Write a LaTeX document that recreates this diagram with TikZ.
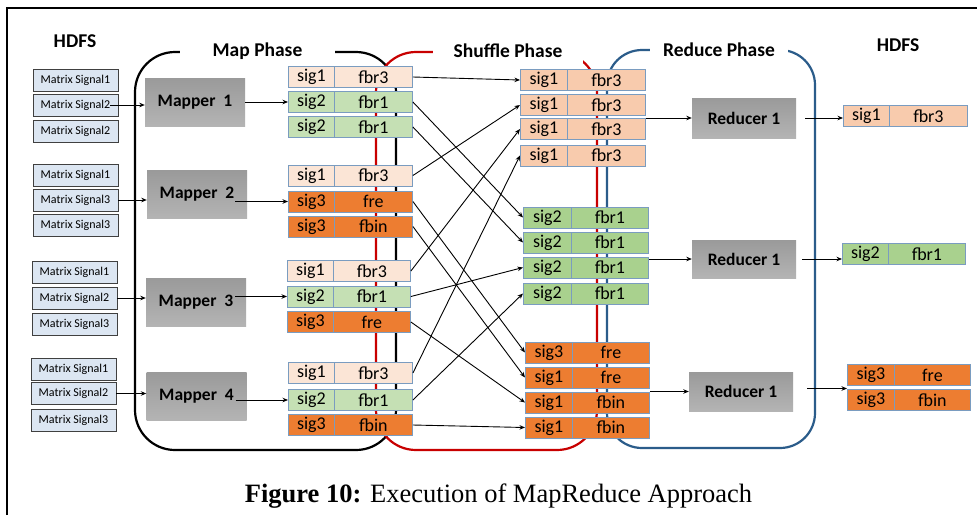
\documentclass[tikz,border=0pt]{standalone}
\usepackage{fontspec}
\setmainfont{Liberation Serif}
\newfontfamily\carl{Carlito}
\usetikzlibrary{arrows.meta}
\definecolor{msigc}{HTML}{DCE6F2}
\definecolor{pchL}{HTML}{FBE5D6}
\definecolor{grnL}{HTML}{C5E0B4}
\definecolor{orng}{HTML}{ED7D31}
\definecolor{pch}{HTML}{F8CBAD}
\definecolor{grn}{HTML}{A9D18E}
\definecolor{cellb}{HTML}{7A9CC0}
\definecolor{redl}{HTML}{C80000}
\definecolor{bluel}{HTML}{2B5C8A}
\definecolor{procT}{HTML}{9A9A9A}
\definecolor{procB}{HTML}{B4B4B4}
\newcommand{\kvrow}[8]{%
  \node[cell, fill=#6, minimum width={(#3)-(#2)}] (#1k) at (#2,#5) {#7};
  \node[cell, fill=#6, minimum width={(#4)-(#3)}] (#1v) at (#3,#5) {#8};}
\begin{document}
\begin{tikzpicture}[x=1pt,y=-1pt,
  msig/.style={draw=black!75, line width=0.8pt, fill=msigc, minimum width=85, minimum height=22, inner sep=0pt, font=\carl\fontsize{12}{12}\selectfont},
  cell/.style={draw=cellb, line width=0.9pt, minimum height=21, inner sep=0pt, anchor=west, font=\carl\fontsize{18}{18}\selectfont},
  proc/.style={top color=procT, bottom color=procB, draw=none, minimum width=100, minimum height=48, inner sep=0pt, font=\carl\bfseries\fontsize{17.5}{18}\selectfont},
  rproc/.style={proc, minimum width=104, minimum height=39},
  phase/.style={fill=white, inner sep=0pt, minimum height=24, font=\carl\bfseries\fontsize{19.5}{20}\selectfont},
  arr/.style={-{Stealth[length=5.5pt,width=4.5pt]}, line width=0.9pt},
  rline/.style={line width=2.2pt, rounded corners=40pt}
]
\useasboundingbox (0,0) rectangle (977,515);
\fill[white] (0,0) rectangle (977,515);
% frame
\draw[line width=2.2pt] (7,515) -- (7,8) -- (977,8);
% phase outlines
\draw[rline, black] (135,52) rectangle (396,450);
\draw[rline, redl] (376,52) rectangle (597,450);
\draw[line width=2.2pt, rounded corners=35pt, bluel] (607,50) rectangle (815,448);
% labels
\node[font=\carl\bfseries\fontsize{19.5}{20}\selectfont] (hin) at (75,41) {HDFS};
\node[font=\carl\bfseries\fontsize{19.5}{20}\selectfont] (hout) at (898,45) {HDFS};
\node[phase, minimum width=155] (lmap) at (257.5,51) {Map Phase};
\node[phase, minimum width=150] (lsh) at (508,51) {Shuffle Phase};
\node[phase, minimum width=138] (lred) at (719,50) {Reduce Phase};
% HDFS inputs
\node[msig] (g1a) at (75.5,80) {Matrix Signal1};
\node[msig] (g1b) at (75.5,105) {Matrix Signal2};
\node[msig] (g1c) at (75.5,131.5) {Matrix Signal2};
\node[msig] (g2a) at (75.5,175) {Matrix Signal1};
\node[msig] (g2b) at (75.5,200) {Matrix Signal3};
\node[msig] (g2c) at (75.5,225.5) {Matrix Signal3};
\node[msig] (g3a) at (74.5,272.5) {Matrix Signal1};
\node[msig] (g3b) at (74.5,298) {Matrix Signal2};
\node[msig] (g3c) at (74.5,324) {Matrix Signal3};
\node[msig] (g4a) at (73.5,369) {Matrix Signal1};
\node[msig] (g4b) at (73.5,393.5) {Matrix Signal2};
\node[msig] (g4c) at (73.5,420) {Matrix Signal3};
% mappers
\node[proc] (m1) at (195,102) {Mapper\ \ 1};
\node[proc] (m2) at (197,194.5) {Mapper\ \ 2};
\node[proc] (m3) at (196,302) {Mapper\ \ 3};
\node[proc] (m4) at (196.5,396) {Mapper\ \ 4};
% map outputs
\kvrow{a1}{288}{334}{412}{77}{pchL}{sig1}{fbr3}
\kvrow{a2}{288}{334}{412}{102}{grnL}{sig2}{fbr1}
\kvrow{a3}{288}{334}{412}{127}{grnL}{sig2}{fbr1}
\kvrow{b1}{288}{334}{412}{175.5}{pchL}{sig1}{fbr3}
\kvrow{b2}{288}{334}{412}{201.5}{orng}{sig3}{fre}
\kvrow{b3}{288}{334}{412}{226.5}{orng}{sig3}{fbin}
\kvrow{c1}{287}{333}{410}{271}{pchL}{sig1}{fbr3}
\kvrow{c2}{287}{333}{410}{296.5}{grnL}{sig2}{fbr1}
\kvrow{c3}{287}{333}{410}{322}{orng}{sig3}{fre}
\kvrow{d1}{288}{334}{412}{373}{pchL}{sig1}{fbr3}
\kvrow{d2}{288}{334}{412}{400}{grnL}{sig2}{fbr1}
\kvrow{d3}{288}{334}{412}{425}{orng}{sig3}{fbin}
% shuffle
\kvrow{s1a}{520}{567}{645}{80}{pch}{sig1}{fbr3}
\kvrow{s1b}{520}{567}{645}{105}{pch}{sig1}{fbr3}
\kvrow{s1c}{520}{567}{645}{129}{pch}{sig1}{fbr3}
\kvrow{s1d}{520}{567}{645}{155.5}{pch}{sig1}{fbr3}
\kvrow{s2a}{523}{571}{648}{217.5}{grn}{sig2}{fbr1}
\kvrow{s2b}{523}{571}{648}{242.5}{grn}{sig2}{fbr1}
\kvrow{s2c}{523}{571}{648}{267.5}{grn}{sig2}{fbr1}
\kvrow{s2d}{523}{571}{648}{293.5}{grn}{sig2}{fbr1}
\kvrow{s3a}{525}{572}{649}{352.5}{orng}{sig3}{fre}
\kvrow{s3b}{525}{572}{649}{377.5}{orng}{sig1}{fre}
\kvrow{s3c}{525}{572}{649}{402.5}{orng}{sig1}{fbin}
\kvrow{s3d}{525}{572}{649}{427.5}{orng}{sig1}{fbin}
% reducers
\node[rproc, minimum height=40] (r1) at (744,118) {Reducer 1};
\node[rproc, minimum height=38] (r2) at (744,259) {Reducer 1};
\node[rproc] (r3) at (741,391.5) {Reducer 1};
% outputs
\kvrow{h1}{843}{889}{967}{116}{pch}{sig1}{fbr3}
\kvrow{h2}{842}{888}{965}{254}{grn}{sig2}{fbr1}
\kvrow{h3a}{847}{894}{970}{375}{orng}{sig3}{fre}
\kvrow{h3b}{847}{894}{970}{400}{orng}{sig3}{fbin}
% arrows HDFS -> mappers
\coordinate (g1o) at ([xshift=-8]g1b.east);
\draw[arr] (g1o) -- (g1o -| m1.west);
\draw[arr] (g2b.east) -- (g2b.east -| m2.west);
\draw[arr] (g3b.east) -- (g3b.east -| m3.west);
\draw[arr] (g4b.east) -- (g4b.east -| m4.west);
% mappers -> outputs
\draw[arr] (m1.east |- a2k.west) -- (a2k.west);
\coordinate (m2o) at ([xshift=-12]m2.east);
\coordinate (m3o) at ([xshift=-11]m3.east);
\coordinate (m4o) at ([xshift=-11]m4.east);
\draw[arr] (m2o |- b2k.west) -- (b2k.west);
\draw[arr] (m3o |- c2k.west) -- (c2k.west);
\draw[arr] (m4o |- d2k.west) -- (d2k.west);
% shuffle
\draw[arr] (a1v.east) -- (s1ak.west);
\draw[arr] (a2v.east) -- (s2ak.west);
\draw[arr] (a3v.east) -- (s2bk.west);
\draw[arr] (b1v.east) -- (s1bk.west);
\draw[arr] (b2v.east) -- (s3ak.west);
\draw[arr] (b3v.east) -- (s3bk.west);
\draw[arr] (c1v.east) -- (s1ck.west);
\draw[arr] (c2v.east) -- (s2ck.west);
\draw[arr] (c3v.east) -- (s3ck.west);
\draw[arr] (d1v.east) -- (s1dk.west);
\draw[arr] (d2v.east) -- (s2dk.west);
\draw[arr] (d3v.east) -- (s3dk.west);
% shuffle -> reducers
\draw[arr] (r1.west -| s1bv.east) -- (r1.west);
\draw[arr] (r2.west -| s2bv.east) -- (r2.west);
\draw[arr] (r3.west -| s3cv.east) -- (r3.west);
% reducers -> HDFS
\coordinate (r1o) at ([xshift=9]r1.east);
\coordinate (r2o) at ([xshift=6]r2.east);
\coordinate (r3o) at ([xshift=14,yshift=3]r3.east);
\draw[arr] (r1o) -- (r1o -| h1k.west);
\draw[arr] (r2o) -- (r2o -| h2k.west);
\draw[arr] (r3o) -- (r3o -| h3ak.west);
% caption
\node[anchor=base, inner sep=0pt, font=\fontsize{26.5}{27}\selectfont] (cap) at (498.5,502) {\textbf{Figure 10:} Execution of MapReduce Approach};
\end{tikzpicture}
\end{document}
